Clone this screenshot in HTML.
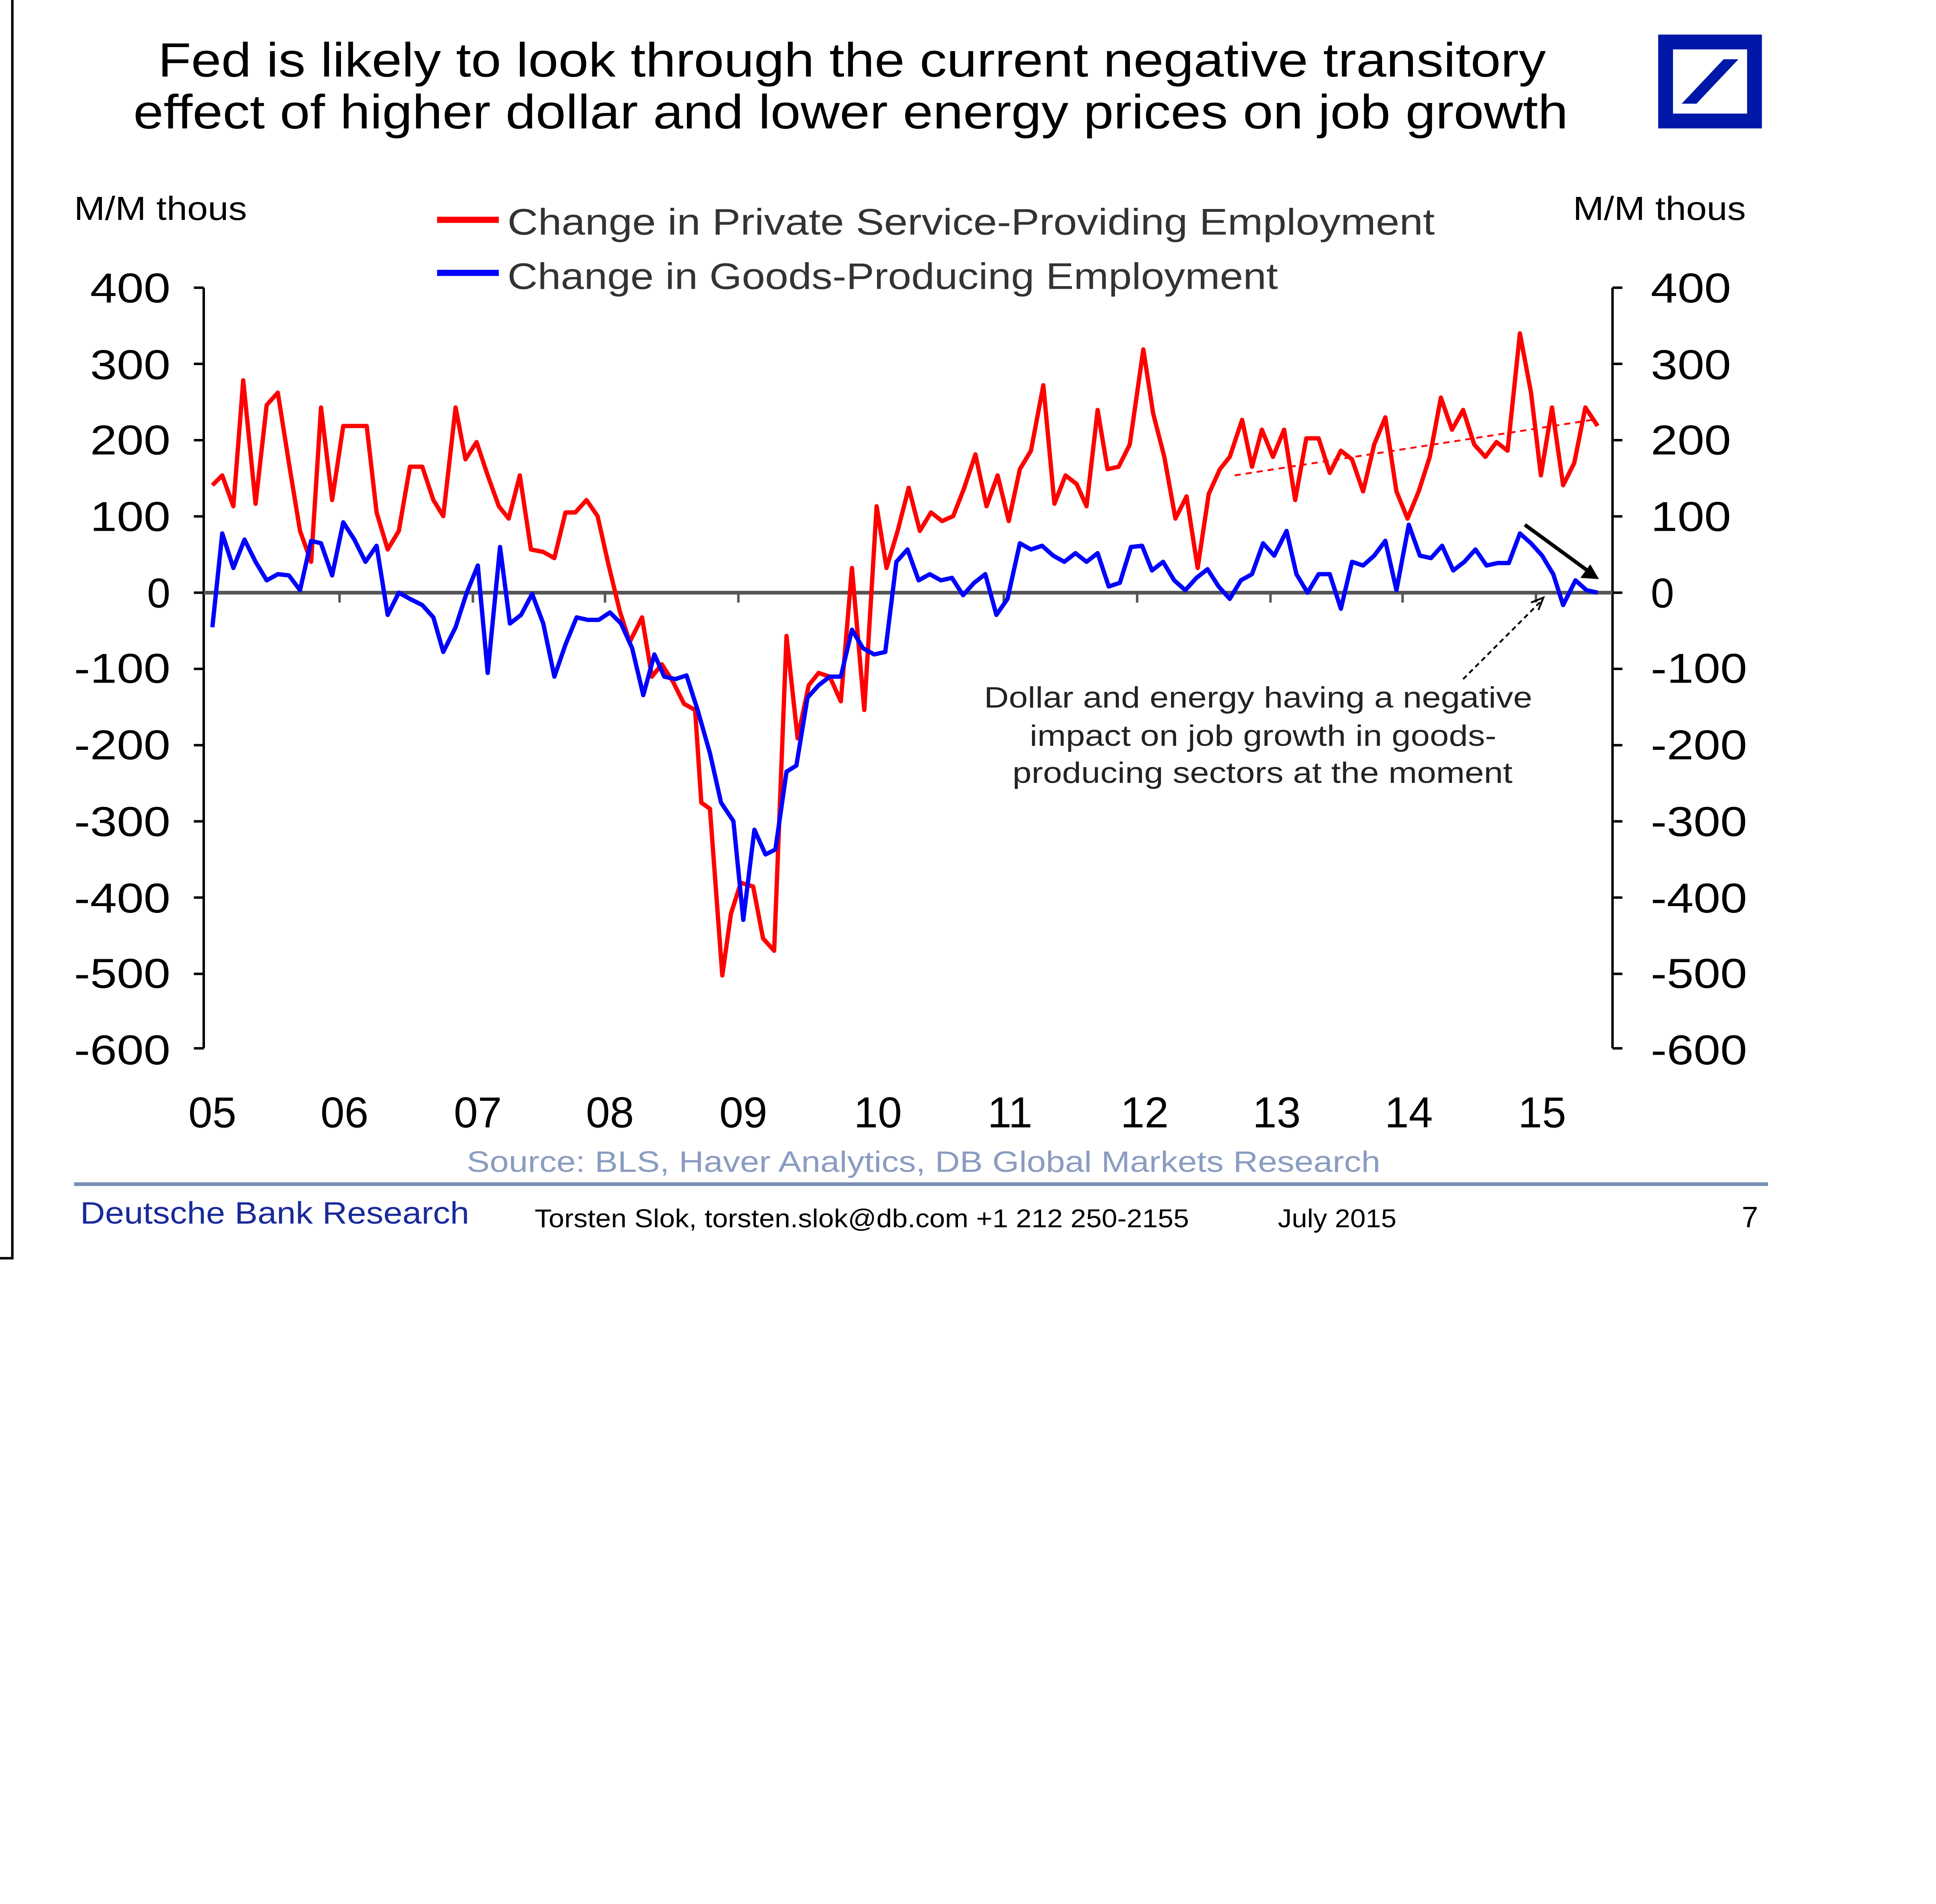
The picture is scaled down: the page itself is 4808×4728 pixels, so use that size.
<!DOCTYPE html>
<html><head><meta charset="utf-8"><style>
html,body{margin:0;padding:0;background:#fff;}
svg{display:block;}
text{font-family:"Liberation Sans",Arial,sans-serif;}
</style></head><body>
<svg width="4808" height="4728" viewBox="0 0 1568 1542" preserveAspectRatio="none" xmlns="http://www.w3.org/2000/svg">
<rect width="1568" height="1542" fill="#fff"/>
<line x1="10" y1="0" x2="10" y2="1020" stroke="#000" stroke-width="2"/>
<line x1="0" y1="1019" x2="10" y2="1019" stroke="#000" stroke-width="2"/>
<text x="128" y="62" font-size="39" fill="#000" textLength="1124" lengthAdjust="spacingAndGlyphs">Fed is likely to look through the current negative transitory</text>
<text x="108" y="104" font-size="39" fill="#000" textLength="1162" lengthAdjust="spacingAndGlyphs">effect of higher dollar and lower energy prices on job growth</text>
<rect x="1343" y="28" width="84" height="76" fill="#0018a8"/>
<rect x="1355" y="40" width="60" height="52" fill="#fff"/>
<polygon points="1362,84 1374,84 1408,48 1396,48" fill="#0018a8"/>
<text x="60" y="178" font-size="27" fill="#000" textLength="140" lengthAdjust="spacingAndGlyphs">M/M thous</text>
<text x="1274" y="178" font-size="27" fill="#000" textLength="140" lengthAdjust="spacingAndGlyphs">M/M thous</text>
<line x1="354" y1="178" x2="404" y2="178" stroke="#ff0000" stroke-width="5"/>
<text x="411" y="190" font-size="30" fill="#333" textLength="751" lengthAdjust="spacingAndGlyphs">Change in Private Service-Providing Employment</text>
<line x1="354" y1="221" x2="404" y2="221" stroke="#0000ff" stroke-width="5"/>
<text x="411" y="234" font-size="30" fill="#333" textLength="624" lengthAdjust="spacingAndGlyphs">Change in Goods-Producing Employment</text>
<g stroke="#000" stroke-width="2" fill="none">
<line x1="165" y1="233" x2="165" y2="849"/>
<line x1="1306" y1="233" x2="1306" y2="849"/>
<path d="M157 233H165M157 294.7H165M157 356.5H165M157 418.2H165M157 480H165M157 541.7H165M157 603.5H165M157 665.2H165M157 726.9H165M157 788.7H165M157 849H165"/>
<path d="M1306 233H1314M1306 294.7H1314M1306 356.5H1314M1306 418.2H1314M1306 480H1314M1306 541.7H1314M1306 603.5H1314M1306 665.2H1314M1306 726.9H1314M1306 788.7H1314M1306 849H1314"/>
</g>
<line x1="165" y1="480" x2="1306" y2="480" stroke="#555" stroke-width="3"/>
<g stroke="#555" stroke-width="2"><path d="M275 480v8M383 480v8M490 480v8M598 480v8M706 480v8M813 480v8M921 480v8M1029 480v8M1136 480v8M1244 480v8"/></g>
<g font-size="34" fill="#000" text-anchor="end">
<text x="138" y="245" textLength="65" lengthAdjust="spacingAndGlyphs">400</text><text x="138" y="307" textLength="65" lengthAdjust="spacingAndGlyphs">300</text><text x="138" y="368" textLength="65" lengthAdjust="spacingAndGlyphs">200</text><text x="138" y="430" textLength="65" lengthAdjust="spacingAndGlyphs">100</text><text x="138" y="492">0</text><text x="138" y="553" textLength="78" lengthAdjust="spacingAndGlyphs">-100</text><text x="138" y="615" textLength="78" lengthAdjust="spacingAndGlyphs">-200</text><text x="138" y="677" textLength="78" lengthAdjust="spacingAndGlyphs">-300</text><text x="138" y="739" textLength="78" lengthAdjust="spacingAndGlyphs">-400</text><text x="138" y="800" textLength="78" lengthAdjust="spacingAndGlyphs">-500</text><text x="138" y="862" textLength="78" lengthAdjust="spacingAndGlyphs">-600</text>
</g>
<g font-size="34" fill="#000">
<text x="1337" y="245" textLength="65" lengthAdjust="spacingAndGlyphs">400</text><text x="1337" y="307" textLength="65" lengthAdjust="spacingAndGlyphs">300</text><text x="1337" y="368" textLength="65" lengthAdjust="spacingAndGlyphs">200</text><text x="1337" y="430" textLength="65" lengthAdjust="spacingAndGlyphs">100</text><text x="1337" y="492">0</text><text x="1337" y="553" textLength="78" lengthAdjust="spacingAndGlyphs">-100</text><text x="1337" y="615" textLength="78" lengthAdjust="spacingAndGlyphs">-200</text><text x="1337" y="677" textLength="78" lengthAdjust="spacingAndGlyphs">-300</text><text x="1337" y="739" textLength="78" lengthAdjust="spacingAndGlyphs">-400</text><text x="1337" y="800" textLength="78" lengthAdjust="spacingAndGlyphs">-500</text><text x="1337" y="862" textLength="78" lengthAdjust="spacingAndGlyphs">-600</text>
</g>
<g font-size="35" fill="#000" text-anchor="middle">
<text x="172" y="913">05</text><text x="279" y="913">06</text><text x="387" y="913">07</text><text x="494" y="913">08</text><text x="602" y="913">09</text><text x="711" y="913">10</text><text x="818" y="913">11</text><text x="927" y="913">12</text><text x="1034" y="913">13</text><text x="1141" y="913">14</text><text x="1249" y="913">15</text>
</g>
<line x1="1000" y1="385" x2="1290" y2="340" stroke="#ff0000" stroke-width="1.5" stroke-dasharray="5,4"/>
<polyline fill="none" stroke="#ff0000" stroke-width="3.5" stroke-linejoin="round" points="172,393 180,385 189,410 197,308 207,408 216,328 225,318 234,375 243,430 252,455 260,330 269,405 278,345 287,345 297,345 305,415 314,445 323,430 332,378 342,378 351,405 359,418 369,330 377,372 386,358 395,385 404,410 412,420 421,385 430,445 440,447 449,452 458,415 466,415 475,405 484,418 493,458 502,495 510,520 520,500 528,548 536,538 545,552 554,570 563,575 568,650 575,655 585,790 592,740 600,715 610,718 618,760 627,770 637,515 646,598 655,555 663,545 672,548 681,568 690,460 700,575 710,410 718,460 727,430 736,395 745,430 754,415 763,422 772,418 781,395 790,368 799,410 808,385 817,422 826,380 835,365 845,312 854,408 863,385 872,392 880,410 889,332 897,380 906,378 915,360 926,283 934,335 943,370 952,420 961,402 970,460 979,400 988,380 996,370 1006,340 1014,378 1022,348 1031,370 1040,348 1049,405 1058,355 1068,355 1077,383 1086,365 1095,372 1104,398 1113,360 1122,338 1131,398 1140,420 1149,398 1158,370 1167,322 1176,348 1185,332 1194,360 1203,370 1212,358 1221,365 1231,270 1240,318 1248,385 1257,330 1266,393 1275,375 1284,330 1294,345"/>
<polyline fill="none" stroke="#0000ff" stroke-width="3.5" stroke-linejoin="round" points="172,508 180,432 189,460 198,437 207,455 216,470 225,465 234,466 243,478 252,438 260,440 269,466 278,423 287,437 296,455 305,442 314,498 323,480 332,485 342,490 351,500 359,528 369,508 378,480 387,458 395,545 405,443 413,505 422,498 431,481 440,505 449,548 458,522 467,500 476,502 485,502 494,496 503,505 512,525 521,563 530,530 538,548 547,550 556,547 565,575 575,610 584,650 594,665 602,745 611,672 620,692 628,688 637,625 645,620 654,565 663,555 672,548 681,548 690,510 699,525 708,530 717,528 726,455 735,445 744,470 753,465 762,470 771,468 780,482 789,472 798,465 807,498 816,485 826,440 835,445 844,442 853,450 862,455 871,448 880,455 889,448 898,475 907,472 916,443 925,442 933,462 942,455 951,470 960,478 969,468 978,461 987,475 996,485 1005,470 1014,465 1023,440 1032,450 1042,430 1050,465 1059,480 1068,465 1077,465 1086,493 1095,455 1104,458 1113,450 1122,438 1131,478 1141,425 1150,450 1159,452 1168,442 1177,462 1186,455 1195,445 1204,458 1213,456 1222,456 1231,432 1240,440 1249,450 1258,465 1266,490 1276,470 1285,478 1294,480"/>
<line x1="1235" y1="425" x2="1287" y2="463" stroke="#000" stroke-width="3"/>
<polygon points="1295,469 1280,468 1288,457" fill="#000"/>
<line x1="1185" y1="550" x2="1248" y2="487" stroke="#000" stroke-width="1.5" stroke-dasharray="4,3"/>
<polyline points="1240,488 1250,484 1246,494" fill="none" stroke="#000" stroke-width="1.5"/>
<g font-size="24" fill="#222">
<text x="797" y="573" textLength="444" lengthAdjust="spacingAndGlyphs">Dollar and energy having a negative</text>
<text x="834" y="604" textLength="378" lengthAdjust="spacingAndGlyphs">impact on job growth in goods-</text>
<text x="820" y="634" textLength="405" lengthAdjust="spacingAndGlyphs">producing sectors at the moment</text>
</g>
<text x="378" y="949" font-size="24" fill="#8a9cc0" textLength="740" lengthAdjust="spacingAndGlyphs">Source: BLS, Haver Analytics, DB Global Markets Research</text>
<line x1="60" y1="959" x2="1432" y2="959" stroke="#7a8fb5" stroke-width="3"/>
<text x="65" y="991" font-size="25" fill="#1a2a9a" textLength="315" lengthAdjust="spacingAndGlyphs">Deutsche Bank Research</text>
<text x="433" y="994" font-size="21" fill="#000" textLength="530" lengthAdjust="spacingAndGlyphs">Torsten Slok, torsten.slok@db.com  +1 212 250-2155</text>
<text x="1035" y="994" font-size="21" fill="#000" textLength="96" lengthAdjust="spacingAndGlyphs">July 2015</text>
<text x="1424" y="994" font-size="24" fill="#000" text-anchor="end">7</text>
</svg>
</body></html>
